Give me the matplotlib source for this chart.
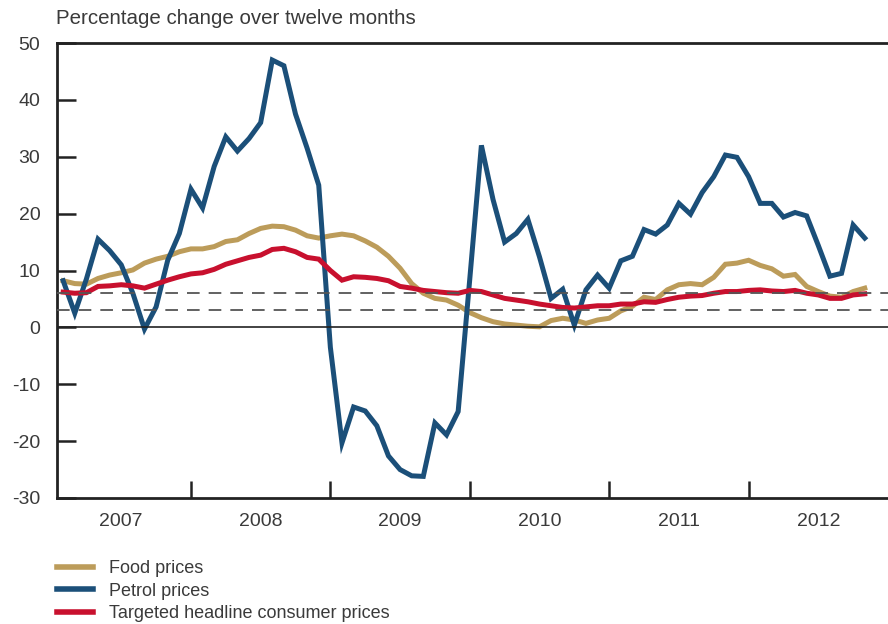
import matplotlib
matplotlib.use("Agg")
import matplotlib.pyplot as plt
from matplotlib.lines import Line2D

# ---- data (monthly, Jan 2007 - Oct 2012) ----
start_year = 2007
n_months = 70
years = [2007, 2008, 2009, 2010, 2011, 2012]

food = [8.2, 7.7, 7.6, 8.6, 9.2, 9.6, 10.1, 11.3, 12.0, 12.5, 13.3, 13.8,
        13.8, 14.2, 15.1, 15.4, 16.5, 17.4, 17.8, 17.7, 17.1, 16.1, 15.7, 16.1,
        16.4, 16.1, 15.2, 14.1, 12.5, 10.4, 7.7, 6.0, 5.1, 4.8, 3.9, 2.6,
        1.7, 1.0, 0.6, 0.4, 0.2, 0.1, 1.2, 1.6, 1.3, 0.7, 1.3, 1.6,
        2.9, 3.7, 5.3, 4.9, 6.6, 7.5, 7.7, 7.5, 8.8, 11.1, 11.3, 11.8,
        10.9, 10.3, 9.0, 9.3, 7.2, 6.3, 5.5, 5.3, 6.3, 6.9]

petrol = [8.2, 2.5, 8.5, 15.5, 13.5, 11.0, 6.0, -0.3, 3.6, 11.8, 16.5, 24.3,
          21.0, 28.3, 33.5, 31.0, 33.2, 36.0, 47.0, 46.0, 37.5, 31.5, 25.0, -3.5,
          -20.3, -14.0, -14.7, -17.3, -22.6, -25.0, -26.1, -26.2, -16.8, -18.9, -14.8, 8.5,
          32.0, 22.5, 15.0, 16.5, 19.0, 12.4, 5.1, 6.7, 0.4, 6.6, 9.2, 6.9,
          11.7, 12.5, 17.2, 16.4, 18.0, 21.8, 19.9, 23.7, 26.5, 30.3, 29.9, 26.5,
          21.8, 21.8, 19.4, 20.2, 19.6, 14.4, 9.0, 9.5, 18.0, 15.7]

cpi = [6.2, 6.0, 6.1, 7.2, 7.3, 7.5, 7.3, 6.9, 7.6, 8.3, 8.9, 9.4,
       9.6, 10.2, 11.1, 11.7, 12.3, 12.7, 13.7, 13.9, 13.3, 12.3, 12.0, 10.0,
       8.3, 8.9, 8.8, 8.6, 8.2, 7.2, 6.9, 6.5, 6.3, 6.1, 6.0, 6.5,
       6.3, 5.7, 5.1, 4.8, 4.5, 4.1, 3.8, 3.5, 3.4, 3.6, 3.8, 3.8,
       4.1, 4.1, 4.5, 4.4, 4.9, 5.3, 5.5, 5.6, 6.0, 6.3, 6.3, 6.5,
       6.6, 6.4, 6.3, 6.5, 6.0, 5.7, 5.1, 5.1, 5.7, 5.9]

target_band = [3, 6]
series_labels = ["Food prices", "Petrol prices", "Targeted headline consumer prices"]
title = "Percentage change over twelve months"

# ---- styling ----
FOOD_C = "#BC9C5A"
PETROL_C = "#1B4F79"
CPI_C = "#C8102E"
TXT_C = "#3A3A3A"
plt.rcParams["font.family"] = ["Liberation Sans", "DejaVu Sans"]

x = list(range(1, n_months + 1))  # month-end positions, Jan 2007 = 1

fig = plt.figure(figsize=(8.88, 6.24), dpi=100)
ax = fig.add_axes([57 / 888, 1 - 498 / 624, 1 - 57 / 888, (498 - 43) / 624])

lw = 3.6
ax.plot(x, food, color=FOOD_C, lw=lw, solid_joinstyle="miter", zorder=3)
ax.plot(x, petrol, color=PETROL_C, lw=lw, solid_joinstyle="miter", zorder=3)
ax.plot(x, cpi, color=CPI_C, lw=lw, solid_joinstyle="miter", zorder=4)

for v in target_band:
    ax.axhline(v, color="#555555", lw=1.3, ls=(0, (7, 5)), zorder=5)
ax.axhline(0, color="#222222", lw=1.2, zorder=5)

ax.set_xlim(0.47, 72)
ax.set_ylim(-30, 50)
ax.set_yticks(range(-30, 51, 10))
ax.set_yticklabels([str(v) for v in range(-30, 51, 10)], fontsize=14, color=TXT_C)
ax.tick_params(axis="y", direction="in", length=14, width=1.8, pad=12, colors="#222222")
ax.tick_params(axis="y", labelcolor=TXT_C)

ax.set_xticks([12 * (i + 1) for i in range(len(years) - 1)])
ax.set_xticklabels([])
ax.tick_params(axis="x", direction="in", length=12, width=1.8, colors="#222222")
ax.set_xticks([12 * i + 6 for i in range(len(years))], minor=True)
ax.set_xticklabels([str(y) for y in years], minor=True, fontsize=14, color=TXT_C)
ax.tick_params(axis="x", which="minor", length=0, pad=11)

for s in ["left", "bottom", "top"]:
    ax.spines[s].set_linewidth(2.0)
    ax.spines[s].set_color("#222222")
ax.spines["right"].set_visible(False)

fig.text(56 / 888, 1 - 18 / 624, title, fontsize=14.8, color=TXT_C, va="center", ha="left")

handles = [Line2D([0], [0], color=FOOD_C, lw=4.0),
           Line2D([0], [0], color=PETROL_C, lw=4.0),
           Line2D([0], [0], color=CPI_C, lw=4.0)]
leg = fig.legend(handles, series_labels, loc="upper left",
                 bbox_to_anchor=(57 / 888, 1 - 560 / 624), frameon=False,
                 fontsize=13, handlelength=2.0, handletextpad=0.9, labelspacing=0.31,
                 borderaxespad=0, borderpad=0)
for t in leg.get_texts():
    t.set_color(TXT_C)

fig.savefig("out.png", dpi=100)
